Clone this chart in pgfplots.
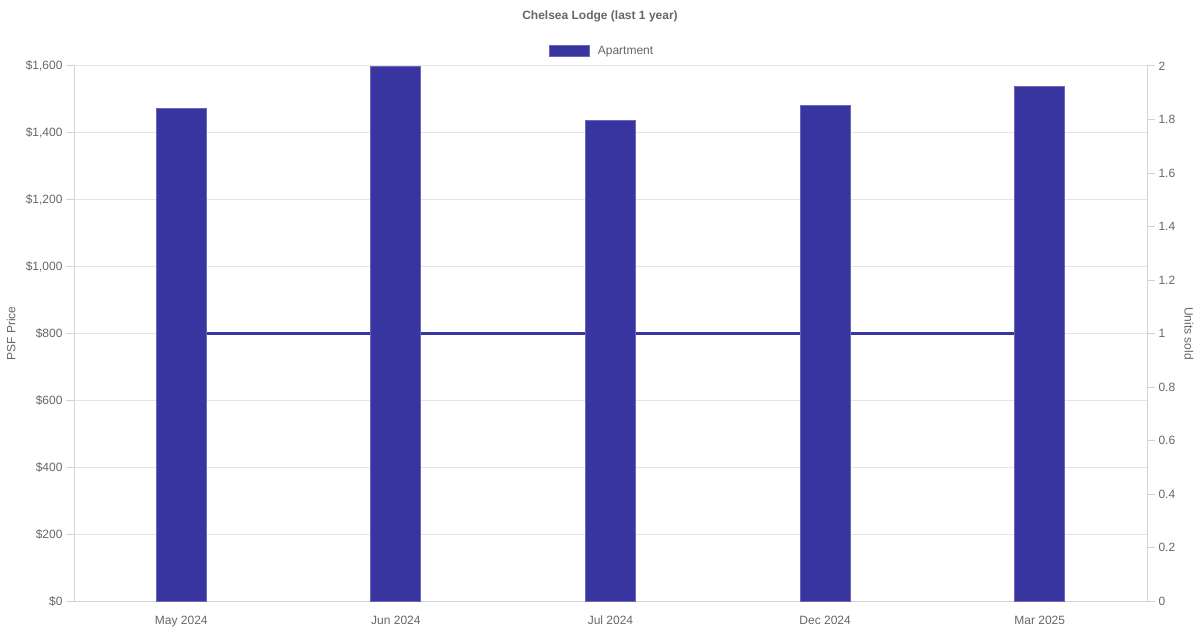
\documentclass[border=0pt]{standalone}
\usepackage{fontspec}
\setmainfont{Liberation Sans}
\usepackage{pgfplots}
\pgfplotsset{compat=1.18}
\definecolor{barc}{RGB}{57,53,160}
\definecolor{txt}{RGB}{102,102,102}
\definecolor{gridc}{RGB}{229,229,229}
\definecolor{axc}{RGB}{210,210,210}
\newcommand{\ft}{\fontsize{12}{14}\selectfont}
\begin{document}
\begin{tikzpicture}
\path[use as bounding box] (0,0) rectangle (1200pt,630pt);
\node[font=\ft\bfseries, text=txt] at (600pt,614pt) {Chelsea Lodge (last 1 year)};
% Left axis: grid, ticks, labels
\begin{axis}[
  at={(74pt,29pt)}, anchor=south west,
  scale only axis, width=1073pt, height=535pt,
  xmin=-0.5, xmax=4.5, ymin=0, ymax=1600,
  axis x line*=bottom, axis y line*=left,
  axis line style={draw=axc, line width=1pt, -},
  xtick={0,1,2,3,4},
  xticklabels={May 2024,Jun 2024,Jul 2024,Dec 2024,Mar 2025},
  xtick style={draw=none},
  xticklabel style={font=\ft, text=txt, text height=9pt, text depth=3pt, yshift=-3pt},
  ytick={0,200,400,600,800,1000,1200,1400,1600},
  yticklabels={\$0,\$200,\$400,\$600,\$800,\$1{,}000,\$1{,}200,\$1{,}400,\$1{,}600},
  yticklabel style={font=\ft, text=txt},
  ytick style={draw=axc, line width=1pt},
  tick align=outside, major tick length=8pt,
  ymajorgrids, grid style={draw=gridc, line width=1pt},
  ylabel={PSF Price},
  ylabel style={font=\ft, text=txt, at={(axis description cs:-0.0587,0.5)}, anchor=center},
]
\end{axis}
% Right axis: units sold line
\begin{axis}[
  at={(74pt,29pt)}, anchor=south west,
  scale only axis, width=1073pt, height=535pt,
  xmin=-0.5, xmax=4.5, ymin=0, ymax=2,
  axis x line=none, axis y line*=right,
  axis line style={draw=axc, line width=1pt, -},
  ytick={0,0.2,0.4,0.6,0.8,1,1.2,1.4,1.6,1.8,2},
  yticklabels={0,0.2,0.4,0.6,0.8,1,1.2,1.4,1.6,1.8,2},
  yticklabel style={font=\ft, text=txt},
  ytick style={draw=axc, line width=1pt},
  tick align=outside, major tick length=8pt,
  ylabel={Units sold},
  ylabel style={font=\ft, text=txt, at={(axis description cs:1.0391,0.5)}, anchor=center, rotate=180},
]
\addplot[barc, line width=3pt] coordinates {(0,1) (1,1) (2,1) (3,1) (4,1)};
\end{axis}
% Bars
\begin{axis}[
  at={(74pt,29pt)}, anchor=south west,
  scale only axis, width=1073pt, height=535pt,
  xmin=-0.5, xmax=4.5, ymin=0, ymax=1600,
  hide axis,
  ybar, bar width=50pt,
  legend style={at={(axis description cs:0.4921,1.028)}, anchor=center, draw=none, fill=none, font=\ft, text=txt, inner sep=0pt},
]
\addplot[fill=barc, draw=barc!75!white, line width=1pt,
  legend image code/.code={\draw[fill=barc, draw=barc!75!white, line width=1pt] (0pt,-5.5pt) rectangle (40pt,5.5pt); \path (46pt,0pt);}]
  coordinates {(0,1474) (1,1598) (2,1438) (3,1483) (4,1540)};
\addlegendentry{Apartment}
\end{axis}
\end{tikzpicture}
\end{document}
